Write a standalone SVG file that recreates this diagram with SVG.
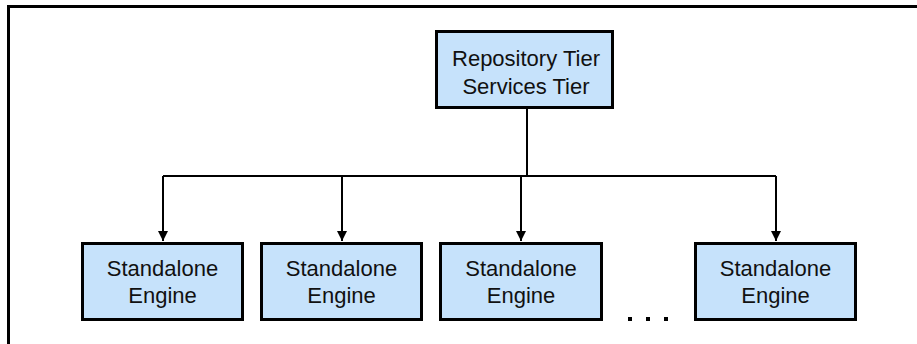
<svg xmlns="http://www.w3.org/2000/svg" width="917" height="344" viewBox="0 0 917 344">
  <defs>
    <marker id="arrow" viewBox="0 0 10 10" refX="10" refY="5" markerWidth="10" markerHeight="10" markerUnits="userSpaceOnUse" orient="auto">
      <path d="M0,0 L10,5 L0,10 Z" fill="#000"/>
    </marker>
    <style>
      .box { fill: #C6E2FB; stroke: #000; stroke-width: 3; }
      .lbl { font-family: "Liberation Sans", Arial, sans-serif; font-size: 22px; fill: #111; text-anchor: middle; }
      .conn { fill: none; stroke: #000; stroke-width: 2; }
      .frame { fill: none; stroke: #000; stroke-width: 3; }
    </style>
  </defs>
  <rect width="917" height="344" fill="#fff"/>
  <!-- open frame: only top and left edges fall inside the canvas -->
  <path class="frame" d="M8.5,344 V6.5 H917"/>

  <g id="connectors">
    <path class="conn" d="M527,109 V176"/>
    <path class="conn" d="M163,176 H776"/>
    <path class="conn" d="M163,176 V241" marker-end="url(#arrow)"/>
    <path class="conn" d="M342,176 V241" marker-end="url(#arrow)"/>
    <path class="conn" d="M521,176 V241" marker-end="url(#arrow)"/>
    <path class="conn" d="M776,176 V241" marker-end="url(#arrow)"/>
  </g>

  <g id="repository">
    <rect class="box" x="436.5" y="31.5" width="176" height="76"/>
    <text class="lbl" x="526" y="66">Repository Tier</text>
    <text class="lbl" x="526" y="94">Services Tier</text>
  </g>

  <g id="engine1">
    <rect class="box" x="82.5" y="243.5" width="160" height="76"/>
    <text class="lbl" x="162.5" y="276">Standalone</text>
    <text class="lbl" x="162.5" y="303">Engine</text>
  </g>
  <g id="engine2">
    <rect class="box" x="261.5" y="243.5" width="160" height="76"/>
    <text class="lbl" x="341.5" y="276">Standalone</text>
    <text class="lbl" x="341.5" y="303">Engine</text>
  </g>
  <g id="engine3">
    <rect class="box" x="440.5" y="243.5" width="161" height="76"/>
    <text class="lbl" x="521" y="276">Standalone</text>
    <text class="lbl" x="521" y="303">Engine</text>
  </g>
  <g id="engine4">
    <rect class="box" x="695.5" y="243.5" width="160" height="76"/>
    <text class="lbl" x="775.5" y="276">Standalone</text>
    <text class="lbl" x="775.5" y="303">Engine</text>
  </g>

  <!-- ellipsis between the third and fourth engines -->
  <g id="ellipsis" fill="#000">
    <rect x="628" y="317" width="4" height="4"/>
    <rect x="646" y="317" width="4" height="4"/>
    <rect x="664" y="317" width="4" height="4"/>
  </g>
</svg>
